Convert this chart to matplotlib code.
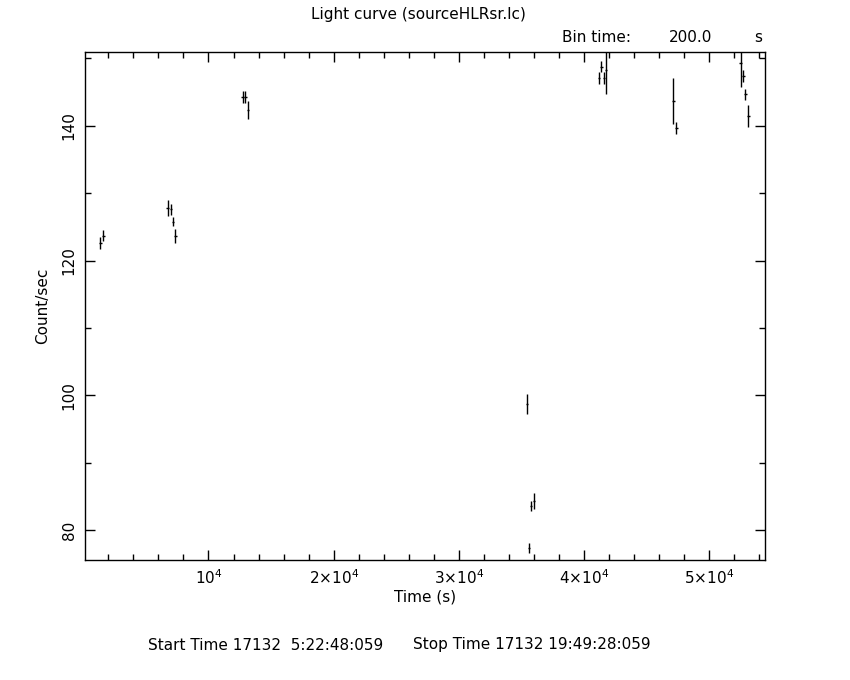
import matplotlib
matplotlib.use("Agg")
import matplotlib.pyplot as plt
from matplotlib.ticker import MultipleLocator, FixedLocator

# light curve, 200 s bins
time = [1360, 1600, 6740, 6990, 7150, 7360, 12720, 12940, 13150,
        35440, 35630, 35790, 36000, 41200, 41400, 41630, 41790,
        47150, 47390, 52530, 52750, 52910, 53150]
rate = [122.6, 123.7, 127.8, 127.6, 125.8, 123.7, 144.3, 144.3, 142.4,
        98.7, 77.4, 83.6, 84.3, 147.1, 148.8, 147.1, 148.3,
        143.7, 139.7, 149.3, 147.4, 144.7, 141.5]
rate_err = [0.86, 0.86, 1.19, 0.8, 0.74, 1.04, 0.86, 0.86, 1.36,
            1.48, 0.74, 0.74, 1.23, 0.86, 0.8, 0.94, 3.6,
            3.46, 0.89, 3.6, 0.9, 0.8, 1.65]
bin_half = 100

xticks = [1e4, 2e4, 3e4, 4e4, 5e4]
xticklabels = ["$10^4$", r"$2{\times}10^4$", r"$3{\times}10^4$", r"$4{\times}10^4$", r"$5{\times}10^4$"]
yticks = [80, 100, 120, 140]

fig = plt.figure(figsize=(8.5, 6.8), dpi=100)
ax = fig.add_axes([0.1, 1 - 560 / 680, 0.9 - 0.1, (560 - 52) / 680])

ax.errorbar(time, rate, yerr=rate_err, xerr=bin_half, fmt="none",
            ecolor="black", elinewidth=1, capsize=0)

ax.set_xlim(130, 54480)
ax.set_ylim(75.56, 150.96)

ax.xaxis.set_major_locator(FixedLocator(xticks))
ax.set_xticklabels(xticklabels)
ax.xaxis.set_minor_locator(MultipleLocator(2000))
ax.set_yticks(yticks)
ax.set_yticklabels([str(v) for v in yticks], rotation=90, va="center")
ax.yaxis.set_minor_locator(MultipleLocator(10))

ax.tick_params(which="both", direction="in", top=True, right=True,
               labelsize=11, width=1, color="black")
ax.tick_params(which="major", length=7, pad=6)
ax.tick_params(which="minor", length=4)
for s in ax.spines.values():
    s.set_linewidth(1)

ax.set_xlabel("Time (s)", fontsize=11, labelpad=2)
ax.set_ylabel("Count/sec", fontsize=11, labelpad=8)

fig.text(418 / 850, 1 - 15 / 680, "Light curve (sourceHLRsr.lc)",
         ha="center", va="center", fontsize=11)
fig.text(562 / 850, 1 - 38 / 680, "Bin time:", ha="left", va="center", fontsize=11)
fig.text(712 / 850, 1 - 38 / 680, "200.0", ha="right", va="center", fontsize=11)
fig.text(762 / 850, 1 - 38 / 680, "s", ha="right", va="center", fontsize=11)
fig.text(148 / 850, 1 - 645 / 680, "Start Time 17132  5:22:48:059",
         ha="left", va="center", fontsize=11)
fig.text(413 / 850, 1 - 645 / 680, "Stop Time 17132 19:49:28:059",
         ha="left", va="center", fontsize=11)

fig.savefig("out.png", dpi=100)
